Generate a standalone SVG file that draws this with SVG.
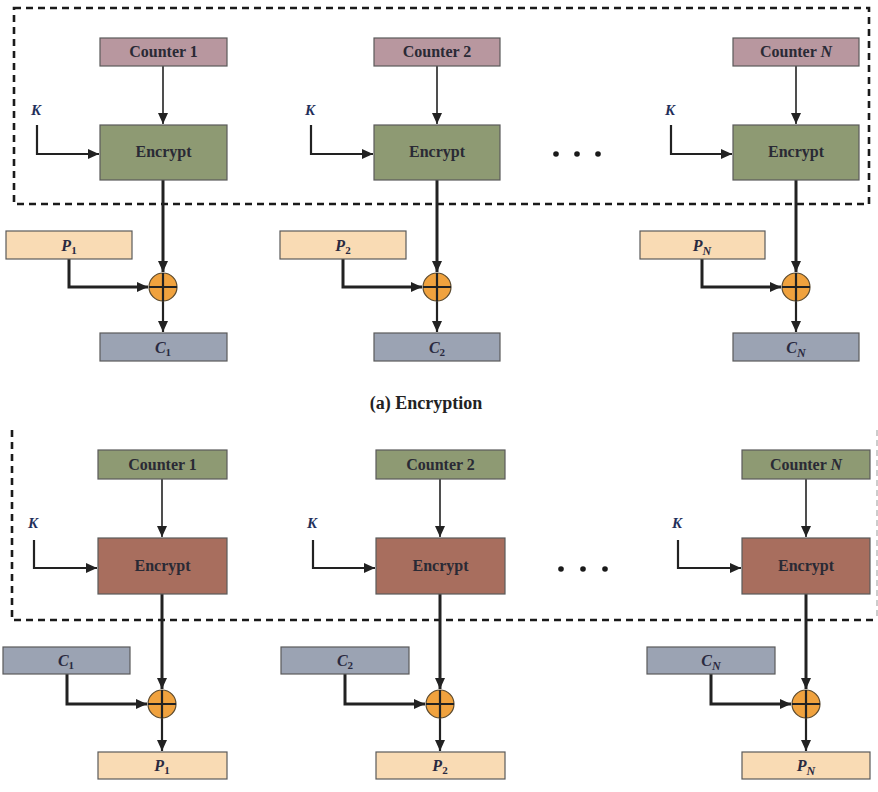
<svg xmlns="http://www.w3.org/2000/svg" width="878" height="792" viewBox="0 0 878 792">
<style>
.box{stroke:#5a5a5a;stroke-width:1.2}
.ctrA{fill:#b8979f}
.encA{fill:#8e9a73}
.ctrB{fill:#8e9a73}
.encB{fill:#a86e5e}
.pl{fill:#f9dbb4}
.ci{fill:#9ba3b3}
text{font-family:"Liberation Serif","Times New Roman","DejaVu Serif",serif}
.t{font-weight:bold;font-size:16px;fill:#2a2a35;text-anchor:middle}
.v{font-weight:bold;font-style:italic;font-size:16px;fill:#2a2a40;text-anchor:middle}
.k{font-weight:bold;font-style:italic;font-size:15px;fill:#1f2f5a}
.sub{font-size:11px;font-style:normal}
.subi{font-size:12px;font-style:italic}
.it{font-style:italic}
.w1{fill:none;stroke:#222;stroke-width:1.6}
.w2{fill:none;stroke:#222;stroke-width:2.2}
.w3{fill:none;stroke:#222;stroke-width:3}
.dash{fill:none;stroke:#1a1a1a;stroke-width:2.6;stroke-dasharray:7 5}
.xor{fill:#f0a23e;stroke:#5a4a30;stroke-width:1.2}
.dot{fill:#1a1a1a}
</style>
<defs>
<marker id="ah" markerUnits="userSpaceOnUse" markerWidth="12" markerHeight="10" refX="11" refY="5" orient="auto">
<path d="M0,0 L11,5 L0,10 z" fill="#222"/>
</marker>
</defs>

<g id="frames">
<rect class="dash" x="14" y="8" width="855" height="196"/>
<path class="dash" d="M12,430 V620 H877"/>
<path d="M877,430 V620" fill="none" stroke="#999" stroke-width="1" stroke-dasharray="6 4"/>
</g>

<g id="connectors">
<path class="w1" d="M163,66 V124" marker-end="url(#ah)"/>
<path class="w2" d="M37,125 V154 H99" marker-end="url(#ah)"/>
<path class="w3" d="M163,180 V272" marker-end="url(#ah)"/>
<path class="w3" d="M69,259 V287 H148" marker-end="url(#ah)"/>
<path class="w2" d="M163,287 V332" marker-end="url(#ah)"/>
<path class="w1" d="M437,66 V124" marker-end="url(#ah)"/>
<path class="w2" d="M311,125 V154 H373" marker-end="url(#ah)"/>
<path class="w3" d="M437,180 V272" marker-end="url(#ah)"/>
<path class="w3" d="M343,259 V287 H422" marker-end="url(#ah)"/>
<path class="w2" d="M437,287 V332" marker-end="url(#ah)"/>
<path class="w1" d="M796,66 V124" marker-end="url(#ah)"/>
<path class="w2" d="M671,125 V154 H732" marker-end="url(#ah)"/>
<path class="w3" d="M796,180 V272" marker-end="url(#ah)"/>
<path class="w3" d="M702,259 V287 H781" marker-end="url(#ah)"/>
<path class="w2" d="M796,287 V332" marker-end="url(#ah)"/>
<path class="w1" d="M162,479 V537" marker-end="url(#ah)"/>
<path class="w2" d="M34,540 V568 H97" marker-end="url(#ah)"/>
<path class="w3" d="M162,594 V689" marker-end="url(#ah)"/>
<path class="w3" d="M67,674 V704 H147" marker-end="url(#ah)"/>
<path class="w2" d="M162,704 V751" marker-end="url(#ah)"/>
<path class="w1" d="M440,479 V537" marker-end="url(#ah)"/>
<path class="w2" d="M313,540 V568 H375" marker-end="url(#ah)"/>
<path class="w3" d="M440,594 V689" marker-end="url(#ah)"/>
<path class="w3" d="M345,674 V704 H425" marker-end="url(#ah)"/>
<path class="w2" d="M440,704 V751" marker-end="url(#ah)"/>
<path class="w1" d="M806,479 V537" marker-end="url(#ah)"/>
<path class="w2" d="M678,540 V568 H741" marker-end="url(#ah)"/>
<path class="w3" d="M806,594 V689" marker-end="url(#ah)"/>
<path class="w3" d="M711,674 V704 H791" marker-end="url(#ah)"/>
<path class="w2" d="M806,704 V751" marker-end="url(#ah)"/>
</g>

<g id="ctr1a"><rect class="box ctrA" x="100" y="38" width="127" height="28"/><text class="t" x="163.5" y="57">Counter 1</text></g>
<g id="ctr2a"><rect class="box ctrA" x="374" y="38" width="126" height="28"/><text class="t" x="437" y="57">Counter 2</text></g>
<g id="ctrNa"><rect class="box ctrA" x="733" y="38" width="126" height="28"/><text class="t" x="796" y="57">Counter <tspan class="it">N</tspan></text></g>

<g id="enc1a"><rect class="box encA" x="100" y="125" width="127" height="55"/><text class="t" x="163.5" y="157">Encrypt</text></g>
<g id="enc2a"><rect class="box encA" x="374" y="125" width="126" height="55"/><text class="t" x="437" y="157">Encrypt</text></g>
<g id="encNa"><rect class="box encA" x="733" y="125" width="126" height="55"/><text class="t" x="796" y="157">Encrypt</text></g>

<g id="k1a"><text class="k" x="31" y="115">K</text></g>
<g id="k2a"><text class="k" x="305" y="115">K</text></g>
<g id="kNa"><text class="k" x="665" y="115">K</text></g>

<g id="dotsA"><circle class="dot" cx="556" cy="154" r="2.8"/><circle class="dot" cx="577" cy="154" r="2.8"/><circle class="dot" cx="598" cy="154" r="2.8"/></g>

<g id="p1a"><rect class="box pl" x="6" y="231" width="126" height="28"/><text class="v" x="69" y="251">P<tspan class="sub" dy="3">1</tspan></text></g>
<g id="p2a"><rect class="box pl" x="280" y="231" width="126" height="28"/><text class="v" x="343" y="251">P<tspan class="sub" dy="3">2</tspan></text></g>
<g id="pNa"><rect class="box pl" x="640" y="231" width="125" height="28"/><text class="v" x="702" y="251">P<tspan class="subi" dy="4">N</tspan></text></g>

<g id="x1a"><circle class="xor" cx="163" cy="287" r="14"/><path class="w2" d="M149,287 H177 M163,273 V301"/></g>
<g id="x2a"><circle class="xor" cx="437" cy="287" r="14"/><path class="w2" d="M423,287 H451 M437,273 V301"/></g>
<g id="xNa"><circle class="xor" cx="796" cy="287" r="14"/><path class="w2" d="M782,287 H810 M796,273 V301"/></g>

<g id="c1a"><rect class="box ci" x="100" y="333" width="127" height="28"/><text class="v" x="163" y="353">C<tspan class="sub" dy="3">1</tspan></text></g>
<g id="c2a"><rect class="box ci" x="374" y="333" width="126" height="28"/><text class="v" x="437" y="353">C<tspan class="sub" dy="3">2</tspan></text></g>
<g id="cNa"><rect class="box ci" x="733" y="333" width="126" height="28"/><text class="v" x="796" y="353">C<tspan class="subi" dy="4">N</tspan></text></g>

<g id="captionA"><text x="426" y="409" font-weight="bold" font-size="18" fill="#222" text-anchor="middle">(a) Encryption</text></g>

<g id="ctr1b"><rect class="box ctrB" x="98" y="450" width="129" height="29"/><text class="t" x="162.5" y="470">Counter 1</text></g>
<g id="ctr2b"><rect class="box ctrB" x="376" y="450" width="129" height="29"/><text class="t" x="440.5" y="470">Counter 2</text></g>
<g id="ctrNb"><rect class="box ctrB" x="742" y="450" width="128" height="29"/><text class="t" x="806" y="470">Counter <tspan class="it">N</tspan></text></g>

<g id="enc1b"><rect class="box encB" x="98" y="538" width="129" height="56"/><text class="t" x="162.5" y="571">Encrypt</text></g>
<g id="enc2b"><rect class="box encB" x="376" y="538" width="129" height="56"/><text class="t" x="440.5" y="571">Encrypt</text></g>
<g id="encNb"><rect class="box encB" x="742" y="538" width="128" height="56"/><text class="t" x="806" y="571">Encrypt</text></g>

<g id="k1b"><text class="k" x="28" y="528">K</text></g>
<g id="k2b"><text class="k" x="307" y="528">K</text></g>
<g id="kNb"><text class="k" x="672" y="528">K</text></g>

<g id="dotsB"><circle class="dot" cx="561" cy="569" r="2.8"/><circle class="dot" cx="583" cy="569" r="2.8"/><circle class="dot" cx="605" cy="569" r="2.8"/></g>

<g id="c1b"><rect class="box ci" x="3" y="647" width="127" height="27"/><text class="v" x="66" y="666">C<tspan class="sub" dy="3">1</tspan></text></g>
<g id="c2b"><rect class="box ci" x="281" y="647" width="128" height="27"/><text class="v" x="345" y="666">C<tspan class="sub" dy="3">2</tspan></text></g>
<g id="cNb"><rect class="box ci" x="647" y="647" width="128" height="27"/><text class="v" x="711" y="666">C<tspan class="subi" dy="4">N</tspan></text></g>

<g id="x1b"><circle class="xor" cx="162" cy="704" r="14"/><path class="w2" d="M148,704 H176 M162,690 V718"/></g>
<g id="x2b"><circle class="xor" cx="440" cy="704" r="14"/><path class="w2" d="M426,704 H454 M440,690 V718"/></g>
<g id="xNb"><circle class="xor" cx="806" cy="704" r="14"/><path class="w2" d="M792,704 H820 M806,690 V718"/></g>

<g id="p1b"><rect class="box pl" x="98" y="752" width="129" height="27"/><text class="v" x="162" y="771">P<tspan class="sub" dy="3">1</tspan></text></g>
<g id="p2b"><rect class="box pl" x="376" y="752" width="129" height="27"/><text class="v" x="440" y="771">P<tspan class="sub" dy="3">2</tspan></text></g>
<g id="pNb"><rect class="box pl" x="742" y="752" width="128" height="27"/><text class="v" x="806" y="771">P<tspan class="subi" dy="4">N</tspan></text></g>
</svg>
